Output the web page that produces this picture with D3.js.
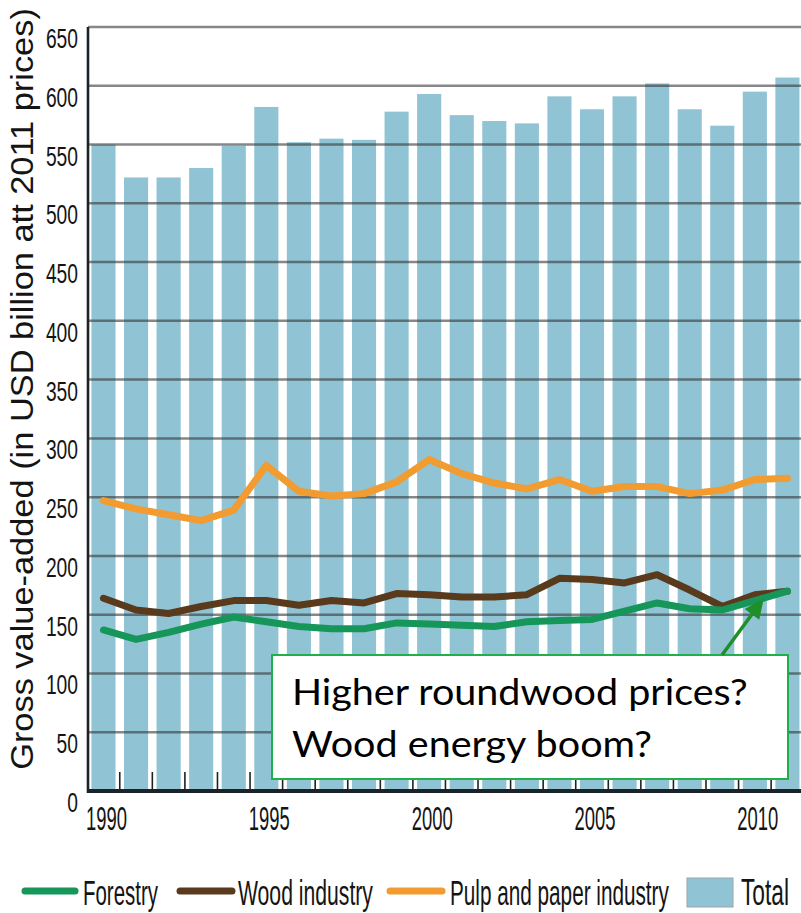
<!DOCTYPE html>
<html><head><meta charset="utf-8">
<script src="https://cdn.jsdelivr.net/npm/d3@7"></script>
<style>html,body{margin:0;padding:0;background:#fff;}svg{display:block;}</style>
</head><body>
<script>
const years = [1990,1991,1992,1993,1994,1995,1996,1997,1998,1999,2000,2001,2002,2003,2004,2005,2006,2007,2008,2009,2010,2011];
const total = [550,522,522,530,549,582,552,555,554,578,593,575,570,568,591,580,591,602,580,566,595,607];
const pulpPaper = [247,240,235,230,239,277,255,251,253,263,282,270,262,257,265,255,259,259,253,256,265,266];
const woodIndustry = [164,154,151,157,162,162,158,162,160,168,167,165,165,167,181,180,177,184,171,157,167,170];
const forestry = [137,129,135,142,148,144,140,138,138,143,142,141,140,144,145,146,153,160,155,154,162,170];
const yTicks = [0,50,100,150,200,250,300,350,400,450,500,550,600,650];
const xTickLabels = [1990,1995,2000,2005,2010];
const legendItems = ["Forestry","Wood industry","Pulp and paper industry","Total"];

const W = 801, H = 913;
const C = {bar:"#90C3D3", forestry:"#17965A", wood:"#5A3A1C", pulp:"#F29B30", grid:"rgba(55,55,55,0.6)", axis:"#1b2328", text:"#141414"};
const font = "'Liberation Sans', Arial, sans-serif";

const svg = d3.select("body").append("svg").attr("width", W).attr("height", H);

// place a text horizontally compressed to a target width (anchor: start|middle|end)
function fitText(parent, str, px, py, size, width, anchor, family, fill, rotate) {
  const g = parent.append("g");
  const t = g.append("text").attr("font-family", family || font).attr("font-size", size)
    .attr("fill", fill || C.text).attr("text-anchor", anchor || "start").text(str);
  const nat = t.node().getComputedTextLength();
  const s = width / nat;
  g.attr("transform", `translate(${px},${py})` + (rotate ? ` rotate(${rotate})` : "") + ` scale(${s},1)`);
  return g;
}

const x = d3.scaleBand().domain(years).range([87.2, 803.7]).paddingInner(0.26).paddingOuter(0.13);
const y = d3.scaleLinear().domain([0, 650]).range([791, 27]);
const cx = d => x(d) + x.bandwidth()/2;

svg.append("defs").append("clipPath").attr("id","clip")
  .append("rect").attr("x", 88).attr("y", 0).attr("width", W-88).attr("height", 792);

const plot = svg.append("g").attr("clip-path","url(#clip)");

// bars
plot.selectAll("rect.bar").data(years).join("rect").attr("class","bar")
  .attr("x", d => x(d)).attr("width", x.bandwidth())
  .attr("y", (d,i) => y(total[i])).attr("height", (d,i) => y(0) - y(total[i]))
  .attr("fill", C.bar);

// grid lines drawn over bars
plot.selectAll("line.grid").data(yTicks.filter(v => v > 0)).join("line").attr("class","grid")
  .attr("x1", 88).attr("x2", W).attr("y1", d => y(d)).attr("y2", d => y(d))
  .attr("stroke", C.grid).attr("stroke-width", 2.5);

// bottom ticks at bar boundaries
plot.selectAll("line.tick").data(years.slice(0, -1)).join("line").attr("class","tick")
  .attr("x1", d => cx(d) + x.step()/2).attr("x2", d => cx(d) + x.step()/2)
  .attr("y1", 772).attr("y2", y(0))
  .attr("stroke", C.axis).attr("stroke-width", 1.6);

// lines
const line = d3.line().x((d,i) => cx(years[i])).y(d => y(d));
[[pulpPaper, C.pulp], [woodIndustry, C.wood], [forestry, C.forestry]].forEach(([vals, col]) => {
  plot.append("path").datum(vals).attr("d", line)
    .attr("fill","none").attr("stroke", col).attr("stroke-width", 7)
    .attr("stroke-linejoin","round").attr("stroke-linecap","round");
});

// axes lines
svg.append("line").attr("x1", 88).attr("x2", 88).attr("y1", y(650)).attr("y2", y(0)+2)
  .attr("stroke", C.axis).attr("stroke-width", 2.6);
svg.append("line").attr("x1", 87).attr("x2", W).attr("y1", y(0)).attr("y2", y(0))
  .attr("stroke", C.axis).attr("stroke-width", 4);

// y tick labels
yTicks.forEach(v => fitText(svg, String(v), 78, y(v) + 21, 28, String(v).length * 10.7, "end"));

// x tick labels
xTickLabels.forEach(v => fitText(svg, String(v), cx(v) + 3, 830, 34, 41, "middle"));

// y title
fitText(svg, "Gross value-added (in USD billion att 2011 prices)", 33, 389, 32, 762, "middle", font, C.text, -90);

// legend
const lg = svg.append("g");
const legLines = [[25,75,C.forestry,83,75],[180,232,C.wood,238,135],[390,442,C.pulp,450,219]];
legLines.forEach((l, i) => {
  lg.append("line").attr("x1", l[0]).attr("x2", l[1]).attr("y1", 891).attr("y2", 891)
    .attr("stroke", l[2]).attr("stroke-width", 7).attr("stroke-linecap","round");
  fitText(lg, legendItems[i], l[3], 905, 36, l[4], "start");
});
lg.append("rect").attr("x", 687).attr("y", 878).attr("width", 46).attr("height", 29)
  .attr("fill", C.bar).attr("stroke","#9aa8ad").attr("stroke-width", 1);
fitText(lg, legendItems[3], 741, 905, 36, 48, "start");

// annotation box
const ann = svg.append("g");
ann.append("rect").attr("x", 272).attr("y", 655).attr("width", 516).attr("height", 124)
  .attr("fill","#fff").attr("stroke","#1FAF4B").attr("stroke-width", 2);
const annFont = "Lato, 'Open Sans', sans-serif";
fitText(ann, "Higher roundwood prices?", 292, 705, 37, 456, "start", annFont, "#000");
fitText(ann, "Wood energy boom?", 292, 757, 37, 360, "start", annFont, "#000");

// arrow
const tipX = cx(2010) + 9, tipY = y(164);
const sx = 722, sy = 655;
const ang = Math.atan2(tipY - sy, tipX - sx);
const hl = 20, hw = 9;
const bx = tipX - hl*Math.cos(ang), by = tipY - hl*Math.sin(ang);
ann.append("line").attr("x1", sx).attr("y1", sy).attr("x2", bx).attr("y2", by)
  .attr("stroke","#1F8F2A").attr("stroke-width", 3.5);
ann.append("path")
  .attr("d", `M${tipX},${tipY} L${bx + hw*Math.sin(ang)},${by - hw*Math.cos(ang)} L${bx - hw*Math.sin(ang)},${by + hw*Math.cos(ang)} Z`)
  .attr("fill","#1F8F2A");
</script>
</body></html>
